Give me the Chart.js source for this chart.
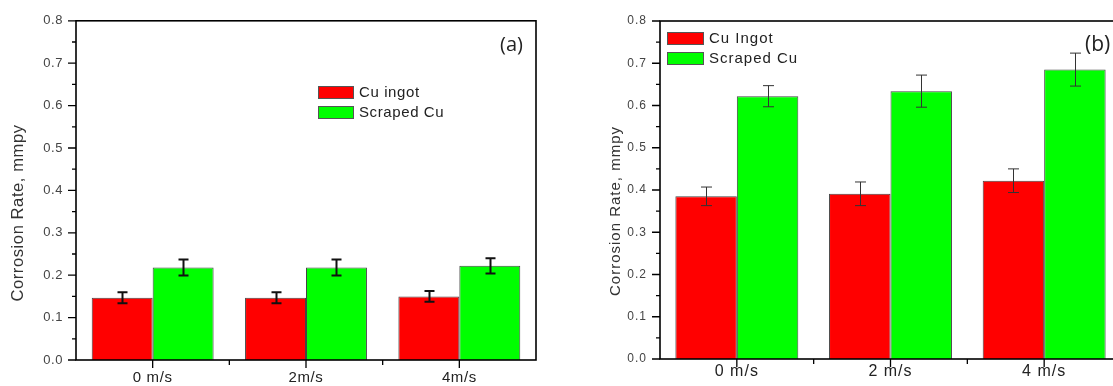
<!DOCTYPE html>
<html>
<head>
<meta charset="utf-8">
<script src="https://cdn.jsdelivr.net/npm/chart.js@4.4.1/dist/chart.umd.min.js"></script>
<style>
html, body { margin: 0; padding: 0; background: #fff; overflow: hidden; width: 1113px; height: 386px; }
canvas { position: absolute; top: 0; }
#chartA { left: 0; }
#chartB { left: 560px; }
</style>
</head>
<body>
<canvas id="chartA" width="556" height="386"></canvas>
<canvas id="chartB" width="580" height="386"></canvas>
<script>
// panel (a)
const labelsA = ["0 m/s", "2m/s", "4m/s"];
const ingotA = [0.147, 0.147, 0.150];
const ingotErrA = [0.013, 0.013, 0.0125];
const scrapedA = [0.218, 0.218, 0.222];
const scrapedErrA = [0.019, 0.019, 0.018];

// panel (b)
const labelsB = ["0 m/s", "2 m/s", "4 m/s"];
const ingotB = [0.385, 0.391, 0.422];
const ingotErrB = [0.022, 0.028, 0.028];
const scrapedB = [0.622, 0.634, 0.685];
const scrapedErrB = [0.025, 0.038, 0.039];

const yTicks = [0, 0.1, 0.2, 0.3, 0.4, 0.5, 0.6, 0.7, 0.8];
const yTitle = "Corrosion Rate, mmpy";

function panelPlugin(s) {
    return {
        id: "panel",
        beforeDraw(chart) {
            chart.ctx.letterSpacing = s.spacing;
        },
        afterDatasetsDraw(chart) {
            var ctx = chart.ctx;
            var y = chart.scales.y;
            ctx.save();
            ctx.strokeStyle = s.errColor;
            ctx.lineWidth = s.errWidth;
            chart.data.datasets.forEach((ds, i) => {
                var meta = chart.getDatasetMeta(i);
                meta.data.forEach((bar, j) => {
                    var v = ds.data[j], e = ds.errors[j];
                    var x = Math.round(bar.x) + 0.5;
                    var top = y.getPixelForValue(v + e);
                    var bot = y.getPixelForValue(v - e);
                    ctx.beginPath();
                    ctx.moveTo(x, top); ctx.lineTo(x, bot);
                    ctx.moveTo(x - s.cap, top); ctx.lineTo(x + s.cap, top);
                    ctx.moveTo(x - s.cap, bot); ctx.lineTo(x + s.cap, bot);
                    ctx.stroke();
                });
            });
            ctx.restore();
        },
        afterDraw(chart) {
            var ctx = chart.ctx;
            var a = chart.chartArea;
            var y = chart.scales.y, x = chart.scales.x;
            ctx.save();
            ctx.letterSpacing = s.spacing;
            ctx.strokeStyle = "#000";
            ctx.lineWidth = s.frameWidth;
            ctx.strokeRect(a.left, a.top, a.right - a.left, a.bottom - a.top);

            // y ticks, major + minor
            ctx.lineWidth = 1.3;
            ctx.beginPath();
            for (let k = 0; k < yTicks.length; k++) {
                let py = y.getPixelForValue(yTicks[k]);
                ctx.moveTo(a.left - 8, py); ctx.lineTo(a.left, py);
                if (k < yTicks.length - 1) {
                    let pm = y.getPixelForValue((yTicks[k] + yTicks[k + 1]) / 2);
                    ctx.moveTo(a.left - 4, pm); ctx.lineTo(a.left, pm);
                }
            }
            // x ticks
            var n = chart.data.labels.length;
            for (let i = 0; i < n; i++) {
                let px = x.getPixelForValue(i);
                ctx.moveTo(px, a.bottom); ctx.lineTo(px, a.bottom + 8);
                if (i > 0) {
                    let pm = (px + x.getPixelForValue(i - 1)) / 2;
                    ctx.moveTo(pm, a.bottom); ctx.lineTo(pm, a.bottom + 5);
                }
            }
            ctx.stroke();

            // legend
            chart.data.datasets.forEach((ds, i) => {
                var ly = s.legendY + i * s.legendGap;
                ctx.fillStyle = ds.backgroundColor;
                ctx.fillRect(s.legendX, ly, s.boxW, s.boxH);
                ctx.strokeStyle = "#555";
                ctx.lineWidth = 1;
                ctx.strokeRect(s.legendX + 0.5, ly + 0.5, s.boxW - 1, s.boxH - 1);
                ctx.fillStyle = "#222";
                ctx.font = s.legendFont;
                ctx.textAlign = "left";
                ctx.textBaseline = "middle";
                ctx.fillText(ds.label, s.legendX + s.boxW + 5, ly + s.boxH / 2 + 0.5);
            });

            // panel letter
            ctx.letterSpacing = "0px";
            ctx.font = s.letterFont;
            ctx.fillStyle = "#222";
            ctx.textAlign = "left";
            ctx.textBaseline = "middle";
            ctx.fillText(s.letter, s.letterX, s.letterY);

            // y title
            ctx.letterSpacing = s.titleSpacing;
            ctx.translate(s.titleX, s.titleY);
            ctx.rotate(-Math.PI / 2);
            ctx.font = s.titleFont;
            ctx.fillStyle = "#333";
            ctx.textAlign = "center";
            ctx.textBaseline = "middle";
            ctx.fillText(yTitle, 0, 0);
            ctx.restore();
        }
    };
}

function makeChart(id, s) {
    return new Chart(document.getElementById(id), {
        type: "bar",
        data: {
            labels: s.labels,
            datasets: [
                { label: s.names[0], data: s.ingot, errors: s.ingotErr, backgroundColor: "#ff0000", borderColor: "#444", borderWidth: 1 },
                { label: s.names[1], data: s.scraped, errors: s.scrapedErr, backgroundColor: "#00ff00", borderColor: "#444", borderWidth: 1 }
            ]
        },
        options: {
            responsive: false,
            animation: false,
            layout: { padding: s.padding },
            datasets: { bar: { categoryPercentage: s.catPct, barPercentage: 1 } },
            plugins: { legend: { display: false }, tooltip: { enabled: false } },
            scales: {
                x: {
                    grid: { display: false, drawTicks: false },
                    border: { display: false },
                    ticks: { color: "#222", font: { family: "Liberation Sans", size: s.xFont }, padding: s.xPad },
                    afterFit: (sc) => { sc.height = s.xAxisH; }
                },
                y: {
                    min: 0,
                    max: 0.8,
                    grid: { display: false, drawTicks: false },
                    border: { display: false },
                    ticks: {
                        stepSize: 0.1,
                        color: "#444",
                        font: { family: "Liberation Sans", size: s.yFont },
                        padding: 13,
                        callback: (v) => v.toFixed(1)
                    },
                    afterFit: (sc) => { sc.width = s.yAxisW; }
                }
            }
        },
        plugins: [panelPlugin(s)]
    });
}

makeChart("chartA", {
    labels: labelsA, names: ["Cu ingot", "Scraped Cu"],
    ingot: ingotA, ingotErr: ingotErrA, scraped: scrapedA, scrapedErr: scrapedErrA,
    padding: { top: 18, right: 20, left: 0, bottom: 0 },
    yAxisW: 76, xAxisH: 26, catPct: 0.795,
    xFont: 15, yFont: 13, xPad: 9, spacing: "0.6px",
    errColor: "#111", errWidth: 2, cap: 5, frameWidth: 1.6,
    legendX: 318, legendY: 86, legendGap: 20, boxW: 36, boxH: 13, legendFont: "15px 'Liberation Sans'",
    letter: "(a)", letterX: 500, letterY: 45, letterFont: "20px 'Open Sans'",
    titleX: 18, titleY: 213, titleFont: "16.5px 'Liberation Sans'", titleSpacing: "0.6px"
});

makeChart("chartB", {
    labels: labelsB, names: ["Cu Ingot", "Scraped Cu"],
    ingot: ingotB, ingotErr: ingotErrB, scraped: scrapedB, scrapedErr: scrapedErrB,
    padding: { top: 21, right: 19, left: 0, bottom: 0 },
    yAxisW: 100, xAxisH: 27, catPct: 0.80,
    xFont: 16, yFont: 12, xPad: 3, spacing: "1px",
    errColor: "#333", errWidth: 1, cap: 5.5, frameWidth: 1.6,
    legendX: 107, legendY: 32, legendGap: 20, boxW: 37, boxH: 13, legendFont: "15px 'Liberation Sans'",
    letter: "(b)", letterX: 525, letterY: 45, letterFont: "21px 'Open Sans'",
    titleX: 56, titleY: 211, titleFont: "15px 'Liberation Sans'", titleSpacing: "1px"
});
</script>
</body>
</html>
